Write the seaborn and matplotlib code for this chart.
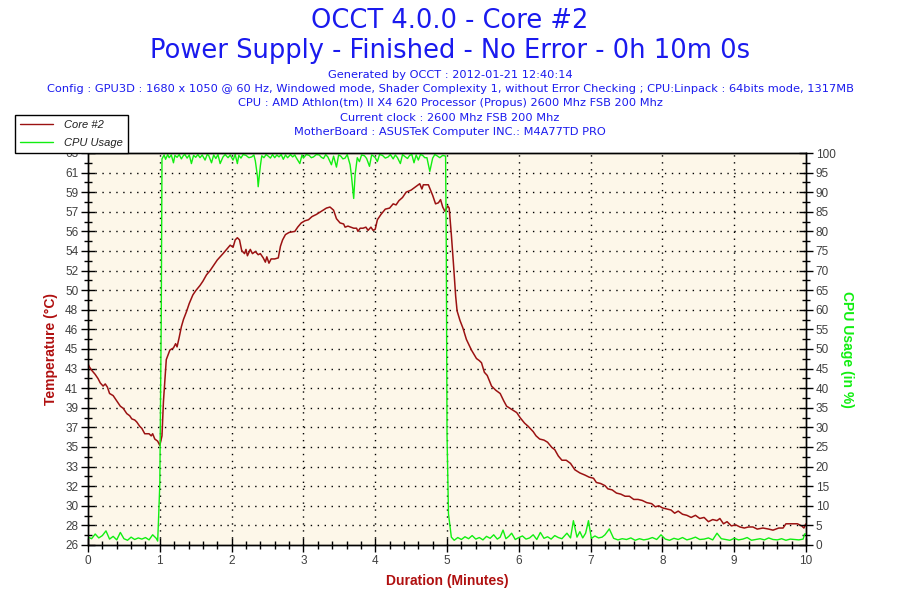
import numpy as np
import pandas as pd
import matplotlib
matplotlib.use("Agg")
import matplotlib.pyplot as plt
import seaborn as sns
from matplotlib.ticker import FixedLocator, MultipleLocator

# ------------------------------------------------------------
# Data
# ------------------------------------------------------------
temp_time = [0.00, 0.02, 0.05, 0.10, 0.14, 0.17, 0.21, 0.24, 0.27, 0.30,
             0.35, 0.38, 0.42, 0.45, 0.49, 0.54, 0.58, 0.61, 0.65, 0.68,
             0.72, 0.75, 0.79, 0.85, 0.88, 0.90, 0.93, 0.97, 1.00, 1.02,
             1.03, 1.05, 1.09, 1.14, 1.19, 1.22, 1.24, 1.27, 1.30, 1.33,
             1.37, 1.41, 1.46, 1.50, 1.56, 1.60, 1.65, 1.70, 1.75, 1.80,
             1.84, 1.88, 1.93, 1.98, 2.02, 2.05, 2.08, 2.11, 2.14, 2.18,
             2.20, 2.22, 2.26, 2.29, 2.33, 2.37, 2.40, 2.44, 2.47, 2.49,
             2.52, 2.55, 2.60, 2.65, 2.68, 2.71, 2.75, 2.80, 2.88, 2.92,
             2.97, 3.02, 3.07, 3.12, 3.18, 3.25, 3.32, 3.37, 3.42, 3.46,
             3.51, 3.56, 3.58, 3.62, 3.70, 3.74, 3.76, 3.79, 3.83, 3.87,
             3.90, 3.94, 3.97, 4.00, 4.03, 4.08, 4.14, 4.20, 4.25, 4.29,
             4.33, 4.38, 4.43, 4.50, 4.56, 4.62, 4.65, 4.67, 4.74, 4.77,
             4.80, 4.84, 4.88, 4.91, 4.94, 4.97, 5.01, 5.03, 5.06, 5.09,
             5.12, 5.14, 5.18, 5.22, 5.27, 5.34, 5.41, 5.45, 5.48, 5.52,
             5.56, 5.62, 5.68, 5.74, 5.79, 5.83, 5.90, 5.97, 6.02, 6.08,
             6.13, 6.20, 6.24, 6.29, 6.35, 6.40, 6.46, 6.50, 6.55, 6.60,
             6.66, 6.72, 6.78, 6.85, 6.92, 6.98, 7.04, 7.08, 7.14, 7.20,
             7.24, 7.30, 7.36, 7.42, 7.48, 7.54, 7.60, 7.66, 7.72, 7.78,
             7.85, 7.90, 7.95, 8.00, 8.06, 8.12, 8.17, 8.22, 8.28, 8.34,
             8.40, 8.46, 8.52, 8.58, 8.64, 8.70, 8.76, 8.80, 8.85, 8.90,
             8.96, 9.02, 9.08, 9.14, 9.20, 9.26, 9.32, 9.40, 9.48, 9.54,
             9.62, 9.68, 9.72, 9.80, 9.88, 9.94, 9.97, 10.00]
temp_core2 = [43.1, 42.8, 42.5, 42.1, 41.7, 41.3, 41.0, 41.2, 40.9, 40.3,
              40.1, 39.8, 39.4, 39.1, 38.9, 38.4, 38.2, 37.9, 37.8, 37.6,
              37.2, 37.0, 36.5, 36.5, 36.3, 36.5, 36.0, 35.8, 35.4, 36.0,
              36.3, 39.5, 43.5, 44.4, 44.6, 45.0, 44.7, 45.6, 46.6, 47.3,
              48.0, 48.8, 49.6, 50.0, 50.5, 50.9, 51.5, 51.9, 52.4, 52.9,
              53.2, 53.5, 53.9, 54.3, 54.1, 54.8, 55.0, 54.8, 53.8, 53.5,
              53.9, 53.3, 53.9, 53.5, 53.7, 53.4, 53.5, 53.1, 52.7, 53.2,
              52.6, 53.0, 53.0, 53.1, 54.2, 54.8, 55.3, 55.5, 55.6, 56.0,
              56.4, 56.6, 56.7, 57.0, 57.2, 57.5, 57.8, 57.9, 57.6, 56.8,
              56.4, 56.3, 56.0, 56.1, 55.9, 55.9, 55.6, 55.9, 55.9, 56.0,
              55.7, 56.0, 55.7, 55.8, 56.7, 57.2, 57.7, 57.8, 58.2, 58.1,
              58.5, 58.8, 59.3, 59.5, 59.8, 60.1, 59.6, 60.0, 60.0, 59.5,
              59.0, 58.2, 58.3, 58.6, 57.9, 57.5, 58.0, 57.8, 55.3, 52.5,
              49.5, 48.1, 47.2, 46.5, 45.4, 44.4, 43.6, 43.4, 43.2, 42.3,
              42.0, 41.0, 40.6, 40.3, 39.6, 39.1, 38.8, 38.5, 38.0, 37.5,
              37.2, 36.7, 36.3, 36.0, 35.9, 35.7, 35.2, 35.0, 34.4, 34.0,
              34.0, 33.7, 33.1, 32.8, 32.6, 32.4, 32.3, 31.9, 31.8, 31.6,
              31.3, 31.2, 30.9, 30.8, 30.6, 30.6, 30.3, 30.3, 30.2, 30.0,
              29.9, 29.6, 29.7, 29.5, 29.4, 29.3, 29.0, 29.2, 28.9, 28.8,
              28.6, 28.8, 28.5, 28.6, 28.2, 28.4, 28.3, 28.5, 28.0, 28.2,
              27.8, 27.9, 27.7, 27.6, 27.7, 27.7, 27.5, 27.6, 27.5, 27.4,
              27.6, 27.6, 28.0, 28.0, 28.0, 27.8, 27.6, 28.0]

cpu_time = [0.00, 0.05, 0.10, 0.15, 0.20, 0.25, 0.30, 0.35, 0.40, 0.45,
            0.50, 0.55, 0.60, 0.65, 0.70, 0.75, 0.80, 0.85, 0.90, 0.95,
            0.97, 0.98, 0.99, 1.00, 1.02, 1.03, 1.06, 1.08, 1.11, 1.13,
            1.16, 1.19, 1.21, 1.24, 1.27, 1.30, 1.33, 1.35, 1.38, 1.41,
            1.44, 1.47, 1.50, 1.53, 1.56, 1.59, 1.63, 1.66, 1.68, 1.72,
            1.75, 1.78, 1.81, 1.84, 1.88, 1.91, 1.95, 1.98, 2.02, 2.05,
            2.08, 2.10, 2.13, 2.16, 2.20, 2.24, 2.28, 2.31, 2.33, 2.36,
            2.37, 2.40, 2.42, 2.45, 2.48, 2.51, 2.54, 2.57, 2.60, 2.63,
            2.66, 2.69, 2.72, 2.75, 2.78, 2.82, 2.85, 2.88, 2.90, 2.95,
            2.98, 3.00, 3.04, 3.08, 3.11, 3.14, 3.18, 3.22, 3.25, 3.28,
            3.31, 3.34, 3.39, 3.42, 3.46, 3.49, 3.52, 3.55, 3.58, 3.61,
            3.65, 3.67, 3.70, 3.72, 3.75, 3.78, 3.81, 3.85, 3.88, 3.92,
            3.95, 3.97, 4.00, 4.03, 4.06, 4.10, 4.14, 4.18, 4.21, 4.25,
            4.28, 4.31, 4.35, 4.38, 4.42, 4.45, 4.48, 4.51, 4.54, 4.57,
            4.60, 4.63, 4.66, 4.69, 4.72, 4.76, 4.80, 4.83, 4.86, 4.90,
            4.94, 4.98, 4.99, 5.00, 5.02, 5.04, 5.06, 5.10,
            5.15, 5.20, 5.25, 5.30, 5.35, 5.40, 5.45, 5.50, 5.55, 5.60,
            5.65, 5.70, 5.74, 5.78, 5.82, 5.86, 5.90, 5.95, 6.00, 6.05,
            6.10, 6.15, 6.20, 6.25, 6.30, 6.35, 6.40, 6.45, 6.50, 6.55,
            6.60, 6.67, 6.72, 6.76, 6.81, 6.85, 6.89, 6.93, 6.97, 7.01,
            7.06, 7.11, 7.16, 7.20, 7.26, 7.32, 7.38, 7.44, 7.50, 7.56,
            7.62, 7.68, 7.74, 7.80, 7.86, 7.92, 7.98, 8.04, 8.10, 8.16,
            8.22, 8.28, 8.34, 8.40, 8.46, 8.52, 8.58, 8.64, 8.70, 8.76,
            8.82, 8.88, 8.94, 9.00, 9.06, 9.12, 9.18, 9.24, 9.30, 9.36,
            9.42, 9.48, 9.54, 9.60, 9.66, 9.72, 9.78, 9.84, 9.90, 9.96,
            9.98, 10.00]
cpu_usage = [2.0, 1.6, 2.8, 1.8, 2.4, 3.6, 1.5, 2.2, 1.3, 3.2,
             1.6, 1.2, 2.0, 1.4, 1.8, 1.5, 1.9, 1.3, 2.6, 1.7,
             1.0, 5.5, 10.7, 15.7, 58.0, 98.5, 99.5, 98.4, 99.6, 98.8,
             99.5, 97.5, 99.4, 98.9, 99.6, 98.5, 99.4, 99.6, 98.7, 99.5,
             97.3, 99.4, 98.9, 99.6, 98.8, 99.5, 98.2, 99.6, 99.4, 97.5,
             99.5, 98.6, 99.6, 97.3, 99.0, 99.6, 98.8, 99.5, 98.2, 99.6,
             97.3, 99.4, 98.7, 99.6, 99.4, 98.8, 99.0, 99.5, 98.0, 94.0,
             91.4, 96.7, 99.3, 98.8, 99.6, 99.2, 98.7, 99.6, 98.8, 99.5,
             99.0, 99.6, 98.4, 99.5, 98.8, 99.6, 99.0, 99.5, 98.8, 97.3,
             99.5, 98.7, 99.6, 99.4, 98.8, 99.0, 99.6, 99.5, 98.9, 98.6,
             99.6, 99.0, 97.0, 99.2, 96.4, 99.5, 99.2, 98.5, 98.7, 99.6,
             97.0, 94.0, 88.4, 94.5, 98.8, 97.8, 99.5, 99.3, 98.6, 96.6,
             99.5, 99.3, 98.8, 97.8, 99.6, 99.4, 98.7, 99.0, 99.6, 98.5,
             99.5, 98.8, 97.3, 99.6, 99.0, 98.6, 99.4, 99.6, 97.5, 99.5,
             98.2, 99.6, 99.4, 98.8, 98.8, 95.3, 98.7, 99.6, 99.3, 98.8,
             99.4, 99.2, 74.0, 28.0, 8.0, 5.0, 2.0, 1.2,
             1.9, 1.4, 2.1, 1.6, 2.4, 1.5, 1.9, 1.3, 2.2, 1.7,
             2.6, 1.5, 2.0, 3.8, 1.6, 2.2, 3.0, 1.4, 1.9, 2.3,
             1.5, 1.8, 2.6, 1.4, 3.2, 1.7, 2.1, 1.5, 2.4, 1.9,
             1.6, 3.0, 1.8, 6.2, 2.0, 3.4, 1.8, 3.0, 6.2, 1.7,
             2.3, 1.8, 2.0, 2.6, 4.1, 1.7, 1.3, 1.6, 1.4, 1.8,
             1.2, 1.6, 1.3, 1.5, 1.9, 1.4, 2.6, 1.5, 1.2, 1.7,
             1.4, 1.9, 1.3, 1.6, 2.0, 1.4, 1.5, 1.8, 1.3, 3.0,
             1.6, 1.4, 1.2, 1.7, 1.3, 1.5, 1.9, 1.2, 1.4, 1.6,
             1.3, 1.8, 1.4, 1.3, 1.6, 1.2, 1.5, 1.4, 1.3, 1.5,
             2.8, 2.8]

temp_ticks = [round(26 + i * 1.85, 2) for i in range(21)]
temp_labels = ['26', '28', '30', '32', '33', '35', '37', '39', '41', '43', '45',
               '46', '48', '50', '52', '54', '56', '57', '59', '61', '63']
cpu_ticks = list(range(0, 101, 5))

title_lines = ["OCCT 4.0.0 - Core #2",
               "Power Supply - Finished - No Error - 0h 10m 0s"]
info_lines = ["Generated by OCCT : 2012-01-21 12:40:14",
              "Config : GPU3D : 1680 x 1050 @ 60 Hz, Windowed mode, Shader Complexity 1, "
              "without Error Checking ; CPU:Linpack : 64bits mode, 1317MB",
              "CPU : AMD Athlon(tm) II X4 620 Processor (Propus) 2600 Mhz FSB 200 Mhz",
              "Current clock : 2600 Mhz FSB 200 Mhz",
              "MotherBoard : ASUSTeK Computer INC.: M4A77TD PRO"]

df_temp = pd.DataFrame({"time": temp_time, "temp": temp_core2})
df_cpu = pd.DataFrame({"time": cpu_time, "cpu": cpu_usage})

# ------------------------------------------------------------
# Styling
# ------------------------------------------------------------
sns.set_style("ticks")
plt.rcParams['font.family'] = ['Liberation Sans', 'DejaVu Sans']

red = '#9b1212'
green = '#11ee11'
blue = '#1a1aee'
bg = '#fdf7e9'
tick_col = '#404040'

fig = plt.figure(figsize=(9, 6), dpi=100)
ax = fig.add_axes([0.0978, 0.0917, 0.7978, 0.6533])
ax2 = ax.twinx()

ax.set_facecolor(bg)
ax.set_zorder(1)
ax2.set_zorder(2)
ax2.patch.set_visible(False)

# grid (dotted)
for t in temp_ticks[1:-1]:
    ax.axhline(t, color='black', lw=1, ls=(0, (1, 4)), zorder=0.5)
for x in range(1, 10):
    ax.axvline(x, color='black', lw=1, ls=(0, (1, 4)), zorder=0.5)

sns.lineplot(data=df_cpu, x="time", y="cpu", ax=ax2, color=green, lw=1,
             estimator=None, sort=False, legend=False)
sns.lineplot(data=df_temp, x="time", y="temp", ax=ax, color=red, lw=1.1,
             estimator=None, sort=False, legend=False)
ax.lines[-1].set_zorder(3)

ax.set_xlim(0, 10)
ax.set_ylim(26, 63)
ax2.set_ylim(0, 100)

ax.yaxis.set_major_locator(FixedLocator(temp_ticks))
ax.set_yticklabels(temp_labels)
ax.yaxis.set_minor_locator(FixedLocator([t + 0.925 for t in temp_ticks[:-1]]))
ax2.yaxis.set_major_locator(FixedLocator(cpu_ticks))
ax2.yaxis.set_minor_locator(MultipleLocator(2.5))
ax.xaxis.set_major_locator(MultipleLocator(1))
ax.xaxis.set_minor_locator(MultipleLocator(0.2))

for a in (ax, ax2):
    a.tick_params(which='major', direction='inout', length=10, width=1,
                  colors='black', labelcolor=tick_col, labelsize=8.5, pad=2)
    a.tick_params(which='minor', direction='inout', length=6, width=1, colors='black')
    for s in a.spines.values():
        s.set_color('black')
        s.set_linewidth(1)

ax.set_xlabel("Duration (Minutes)", color='#b01010', fontweight='bold', fontsize=10, labelpad=5)
ax.set_ylabel("Temperature (°C)", color='#b01010', fontweight='bold', fontsize=10, labelpad=5)
ax2.set_ylabel("CPU Usage (in %)", color=green, fontweight='bold', fontsize=10,
               rotation=270, labelpad=13)

# titles
fig.text(0.5, 1 - 21 / 600, title_lines[0], ha='center', va='center', color=blue,
         fontsize=18.5, family='DejaVu Sans')
fig.text(0.5, 1 - 51 / 600, title_lines[1], ha='center', va='center', color=blue,
         fontsize=18.5, family='DejaVu Sans')
for i, line in enumerate(info_lines):
    fig.text(0.5, 1 - (75 + 14.2 * i) / 600, line, ha='center', va='center', color=blue,
             fontsize=8.2, family='DejaVu Sans')

# legend
h1, = ax.plot([], [], color=red, lw=1)
h2, = ax.plot([], [], color=green, lw=1)
leg = fig.legend([h1, h2], ["Core #2", "CPU Usage"], loc='upper left',
                 bbox_to_anchor=(15 / 900, 1 - 115 / 600), borderaxespad=0,
                 frameon=True, fancybox=False, edgecolor='black', framealpha=1,
                 fontsize=8, handlelength=3.0, borderpad=0.45, labelspacing=0.75,
                 handletextpad=1.0)
leg.get_frame().set_linewidth(1)
for txt in leg.get_texts():
    txt.set_fontstyle('italic')
    txt.set_color('#202020')
leg.set_zorder(10)

fig.savefig("out.png", dpi=100)
